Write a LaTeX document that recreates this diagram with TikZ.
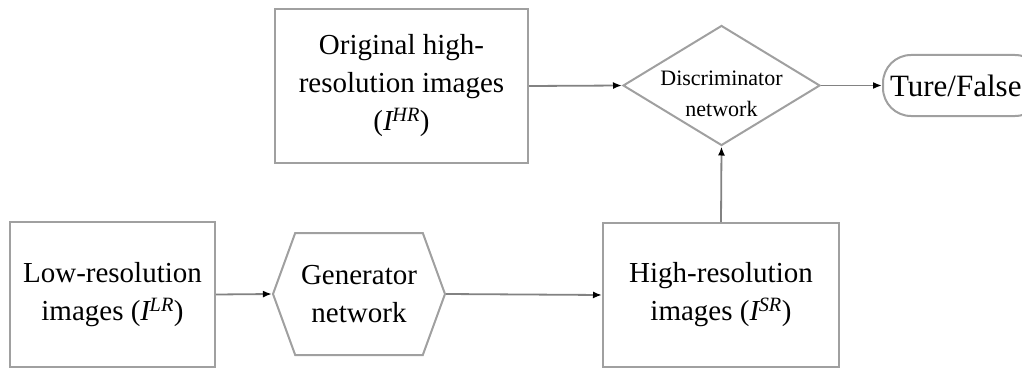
\documentclass[tikz,border=0pt]{standalone}
\usepackage{fontspec}
\setmainfont{Liberation Serif}
\usetikzlibrary{shapes.geometric,shapes.symbols,arrows.meta}
\definecolor{edgegray}{RGB}{160,160,160}
\definecolor{linegray}{RGB}{130,130,130}
\tikzset{
  box/.style={draw=edgegray,line width=2pt,rectangle,inner sep=0pt,align=center,
    font=\fontsize{29}{38}\selectfont},
  lbl/.style={inner sep=0pt,align=center,font=\fontsize{22}{31}\selectfont},
  conn/.style={draw=linegray,line width=1.8pt,-{Latex[length=9pt,width=7pt,color=black]}},
}
\newcommand{\sub}[1]{(\textit{I}\kern-1.5pt\textsuperscript{\textit{#1}})}
\begin{document}
\begin{tikzpicture}[x=1pt,y=-1pt]
\useasboundingbox (0,0) rectangle (1022,369);
\begin{scope}
\clip (0,0) rectangle (1022,369);
\node[box,minimum width=253pt,minimum height=154pt] (orig) at (401.5,86)
  {\rule{0pt}{14pt}Original high-\\resolution images\\\sub{HR}};
\node[box,diamond,aspect=1.64,minimum width=197pt,minimum height=120pt] (disc) at (721.5,85.5) {};
\node[lbl] (disclbl) at (721.5,94) {Discriminator\\network};
\node[box,rounded corners=28pt,minimum width=160pt,minimum height=61pt,anchor=west,
  font=\fontsize{31}{38}\selectfont,text width=150pt,align=left] (tf) at (882,85.5) {\hspace*{2pt}Ture/False};
\node[box,minimum width=205pt,minimum height=145pt] (low) at (112.5,294.5)
  {\rule{0pt}{12pt}Low-resolution\\images \sub{LR}};
\node[box,signal,signal to=east and west,signal pointer angle=140,
  minimum width=172pt,minimum height=122pt] (gen) at (359,294) {Generator\\network};
\node[box,minimum width=236pt,minimum height=144pt] (high) at (721,295)
  {\rule{0pt}{12pt}High-resolution\\images \sub{SR}};
\draw[conn] (orig.east) -- (disc.west);
\draw[conn] (disc.east) -- (tf.west);
\draw[conn] (low.east) -- (gen.west);
\draw[conn] (gen.east) -- (high.west);
\draw[conn] (high.north) -- (disc.south);
\end{scope}
\end{tikzpicture}
\end{document}
